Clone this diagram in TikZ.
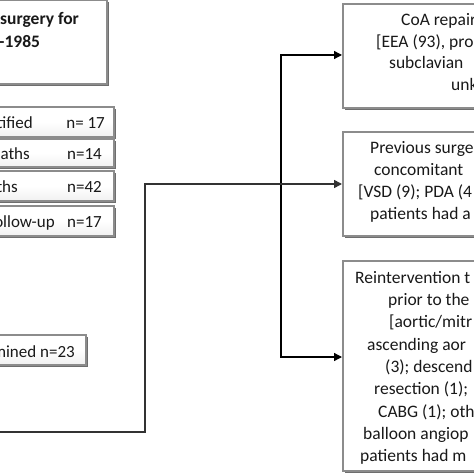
\documentclass[tikz,border=0pt]{standalone}
\usepackage{fontspec}
\setmainfont{Carlito}
\usetikzlibrary{arrows.meta,shadows}
\definecolor{boxgray}{RGB}{140,140,140}
\definecolor{shadowgray}{RGB}{110,110,110}
\definecolor{textblack}{RGB}{25,25,25}
\definecolor{linegray}{RGB}{50,50,50}
\begin{document}
\begin{tikzpicture}[x=1bp,y=-1bp,
  box/.style={draw=boxgray, line width=1.8bp, fill=white, inner sep=0pt,
    general shadow={fill=shadowgray, shadow xshift=2bp, shadow yshift=-2bp}},
  sbox/.style={box, top color=white, bottom color=gray!12, middle color=white},
  txt/.style={anchor=base west, inner sep=0pt, text=textblack,
    font=\fontsize{17.5bp}{22bp}\selectfont},
  ltxt/.style={anchor=base east, inner sep=0pt, text=textblack,
    font=\fontsize{17bp}{21bp}\selectfont},
  btxt/.style={anchor=base west, inner sep=0pt, text=textblack,
    font=\fontsize{17.5bp}{22bp}\selectfont\bfseries},
  arr/.style={draw=black, line width=1.3bp, -{Triangle[length=8bp,width=8bp]}},
  garr/.style={draw=linegray, line width=1.5bp, -{Triangle[length=8bp,width=8bp]}}
]
\useasboundingbox (0,0) rectangle (474,474);
\clip (0,0) rectangle (474,474);
\fill[white] (0,0) rectangle (474,474);

% left column boxes
\node[box, anchor=south east, minimum width=320bp, minimum height=84bp] (tbox) at (108,85) {};
\node[sbox, anchor=south east, minimum width=200bp, minimum height=30bp] (b1) at (115,138) {};
\node[sbox, anchor=south east, minimum width=200bp, minimum height=28bp] (b2) at (115,168) {};
\node[sbox, anchor=south east, minimum width=200bp, minimum height=30bp] (b3) at (115,202) {};
\node[sbox, anchor=south east, minimum width=200bp, minimum height=30bp] (b4) at (115,237) {};
\node[sbox, anchor=south east, minimum width=200bp, minimum height=30bp] (b5) at (87,366) {};

% title text
\node[btxt] (t1) at (0,25) {surgery for};
\node[btxt] (t2) at (-1,48) {-1985};

% left box texts
\node[ltxt] (l1a) at (33,129) {tified};
\node[ltxt] (l1b) at (105,129) {n= 17};
\node[ltxt] (l2a) at (30,160) {aths};
\node[ltxt] (l2b) at (102,160) {n=14};
\node[ltxt] (l3a) at (18,193) {ths};
\node[ltxt] (l3b) at (102,193) {n=42};
\node[ltxt] (l4a) at (55,228) {ollow-up};
\node[ltxt] (l4b) at (102,228) {n=17};
\node[ltxt] (l5) at (75,357) {mined n=23};

% right column boxes
\node[box, anchor=north west, minimum width=300bp, minimum height=104bp] (boxA) at (342,3) {};
\node[box, anchor=north west, minimum width=300bp, minimum height=104bp] (boxB) at (342,131) {};
\node[box, anchor=north west, minimum width=300bp, minimum height=210bp] (boxC) at (342,260) {};

% box A text
\node[txt] (a1) at (401,26) {CoA repair};
\node[txt] (a2) at (376,48) {[EEA (93), pro};
\node[txt] (a3) at (389,69) {subclavian};
\node[txt] (a4) at (451,91) {unk};

% box B text
\node[txt] (p1) at (370,154) {Previous surge};
\node[txt] (p2) at (374,176) {concomitant};
\node[txt] (p3) at (358,198) {[VSD (9); PDA (4};
\node[txt] (p4) at (370,220) {patients had a};

% box C text
\node[txt] (r1) at (355,283) {Reintervention t};
\node[txt] (r2) at (388,305) {prior to the};
\node[txt] (r3) at (389,327) {[aortic/mitr};
\node[txt] (r4) at (367,350) {ascending aor};
\node[txt] (r5) at (385,372) {(3); descend};
\node[txt] (r6) at (374,394) {resection (1);};
\node[txt] (r7) at (378,417) {CABG (1); oth};
\node[txt] (r8) at (363,439) {balloon angiop};
\node[txt] (r9) at (360,461) {patients had m};

% connectors
\coordinate (v1) at (281,55);
\coordinate (v2) at (281,357);
\draw[arr] (v2) -- (v1) -- (v1 -| boxA.west);
\draw[arr] (v1) -- (v2) -- (v2 -| boxC.west);

\coordinate (h0) at (0,432);
\coordinate (h1) at (145,432);
\coordinate (h2) at (145,184);
\draw[garr] (h0) -- (h1) -- (h2) -- (h2 -| boxB.west);
\end{tikzpicture}
\end{document}
